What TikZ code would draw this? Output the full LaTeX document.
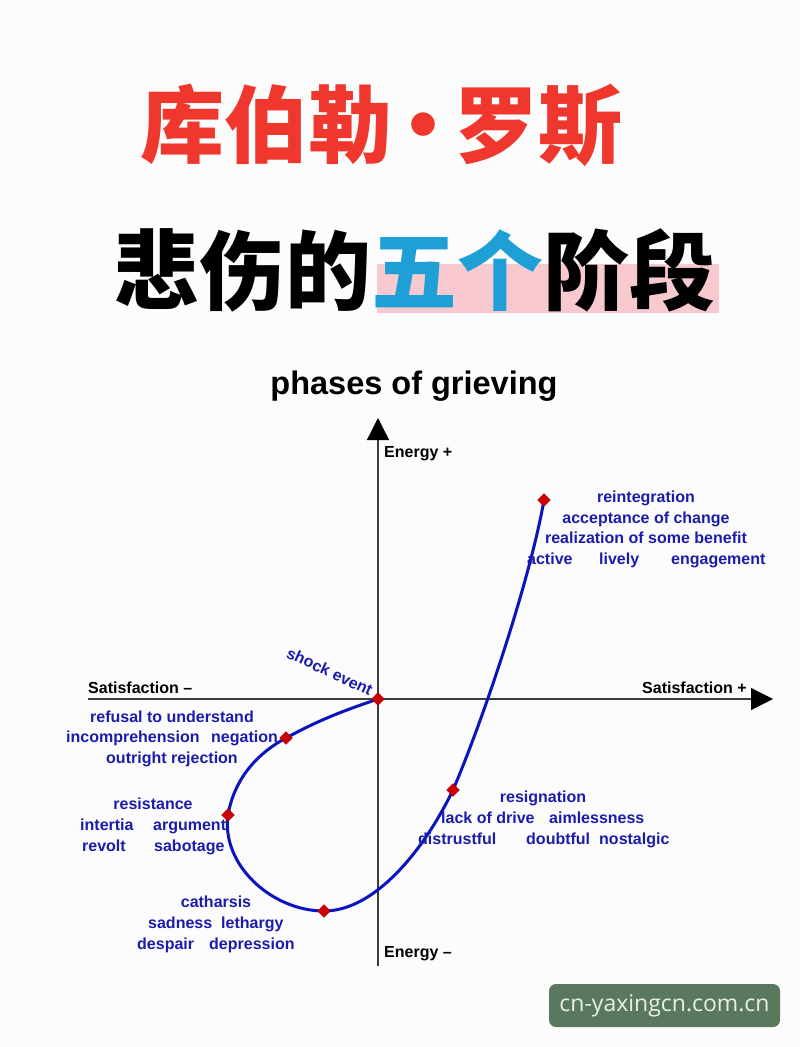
\documentclass[tikz,border=0pt]{standalone}
\usepackage{fontspec}
\setmainfont{Liberation Sans}
\newfontfamily\cjk{Noto Sans CJK SC}
\newfontfamily\wmfont{Open Sans}
\usetikzlibrary{arrows.meta,shapes.geometric}
\definecolor{bg}{RGB}{251,252,251}
\definecolor{lblblue}{RGB}{28,28,172}
\definecolor{curveblue}{RGB}{12,20,190}
\definecolor{dmdred}{RGB}{204,0,0}
\definecolor{titlered}{RGB}{240,55,45}
\definecolor{titleblue}{RGB}{30,160,215}
\definecolor{hlpink}{RGB}{248,202,207}
\definecolor{wmgreen}{RGB}{90,120,94}
\definecolor{wmtext}{RGB}{232,240,232}
\definecolor{axisgray}{RGB}{60,60,60}
\begin{document}
\begin{tikzpicture}[x=1pt,y=-1pt,
  lbl/.style={text=lblblue, font=\fontsize{16}{19}\selectfont\bfseries, inner sep=0pt, text height=11.5pt, text depth=3.5pt},
  axlbl/.style={text=black, font=\fontsize{16}{19}\selectfont\bfseries, inner sep=0pt, text height=11.5pt, text depth=3.5pt},
  dmd/.style={diamond, fill=dmdred, draw=dmdred!80!black, line width=0.4pt, minimum size=13pt, inner sep=0pt},
  axisline/.style={draw=axisgray, line width=1.3pt},
  arrowhead/.style={-{Triangle[width=22pt,length=22pt,fill=black,color=black]}},
  curveline/.style={draw=curveblue, line width=3pt}]
\fill[bg] (0,0) rectangle (800,1047);
\useasboundingbox (0,0) rectangle (800,1047);

% titles
\node[inner sep=0pt, text=titlered, font=\cjk\bfseries\fontsize{84}{90}\selectfont] (t1) at (381,125) {库伯勒\kern-11pt·\kern-11pt罗斯};
\fill[hlpink] (377,264) rectangle (719,313);
\node[inner sep=0pt, text=black, font=\cjk\bfseries\fontsize{86}{92}\selectfont] (t2) at (414,270) {悲伤的\textcolor{titleblue}{五个}阶段};

\node[inner sep=0pt, font=\fontsize{32.5}{36}\selectfont\bfseries] (ph) at (414,386) {phases of grieving};

% axes
\coordinate (vb) at (378,966);
\coordinate (vt) at (378,418);
\coordinate (hl) at (88,699);
\coordinate (hr) at (773,699);
\draw[axisline, arrowhead] (vb) -- (vt);
\draw[axisline, arrowhead] (hl) -- (hr);

\node[axlbl, anchor=west] (ep) at (384,453) {Energy +};
\node[axlbl, anchor=west] (em) at (384,953) {Energy –};
\node[axlbl, anchor=west] (sm) at (88,689) {Satisfaction –};
\node[axlbl, anchor=west] (sp) at (642,689) {Satisfaction +};

% curve points
\coordinate (p0) at (378,699);
\coordinate (p1) at (286,738);
\coordinate (p2) at (228,815);
\coordinate (p3) at (324,911);
\coordinate (p4) at (453,790);
\coordinate (p5) at (544,500);
\draw[curveline] (p0) .. controls +(-35,12) and +(35,-19) .. (p1)
  .. controls +(-30,16) and +(6,-35) .. (p2)
  .. controls +(-7,50) and +(-52,0) .. (p3)
  .. controls +(50,0) and +(-30,62) .. (p4)
  .. controls +(30,-70) and +(-14,80) .. (p5);
\node[dmd] (d0) at (p0) {};
\node[dmd] (d1) at (p1) {};
\node[dmd] (d2) at (p2) {};
\node[dmd] (d3) at (p3) {};
\node[dmd] (d4) at (p4) {};
\node[dmd] (d5) at (p5) {};

% labels
\node[lbl, rotate=-25] (shock) at (329,673) {shock event};

\node[lbl] (r1) at (646,498) {reintegration};
\node[lbl] (r2) at (646,519) {acceptance of change};
\node[lbl] (r3) at (646,539) {realization of some benefit};
\node[lbl, anchor=west] (r4a) at (527,560) {active};
\node[lbl, anchor=west] (r4b) at (599,560) {lively};
\node[lbl, anchor=west] (r4c) at (671,560) {engagement};

\node[lbl] (n1) at (172,718) {refusal to understand};
\node[lbl, anchor=west] (n2a) at (66,738) {incomprehension};
\node[lbl, anchor=west] (n2b) at (211,738) {negation};
\node[lbl] (n3) at (172,759) {outright rejection};

\node[lbl] (s1) at (153,805) {resistance};
\node[lbl, anchor=west] (s2a) at (80,826) {intertia};
\node[lbl, anchor=west] (s2b) at (153,826) {argument};
\node[lbl, anchor=west] (s3a) at (82,847) {revolt};
\node[lbl, anchor=west] (s3b) at (154,847) {sabotage};

\node[lbl] (c1) at (216,903) {catharsis};
\node[lbl, anchor=west] (c2a) at (148,924) {sadness};
\node[lbl, anchor=west] (c2b) at (221,924) {lethargy};
\node[lbl, anchor=west] (c3a) at (137,945) {despair};
\node[lbl, anchor=west] (c3b) at (209,945) {depression};

\node[lbl] (g1) at (543,798) {resignation};
\node[lbl, anchor=west] (g2a) at (441,819) {lack of drive};
\node[lbl, anchor=west] (g2b) at (549,819) {aimlessness};
\node[lbl, anchor=west] (g3a) at (418,840) {distrustful};
\node[lbl, anchor=west] (g3b) at (526,840) {doubtful};
\node[lbl, anchor=west] (g3c) at (599,840) {nostalgic};

% watermark
\node[fill=wmgreen, rounded corners=7pt, minimum width=231pt, minimum height=43pt, inner sep=0pt,
  text=wmtext, font=\wmfont\fontsize{23}{26}\selectfont] (wm) at (664.5,1005.5) {cn-yaxingcn.com.cn};
\end{tikzpicture}
\end{document}
